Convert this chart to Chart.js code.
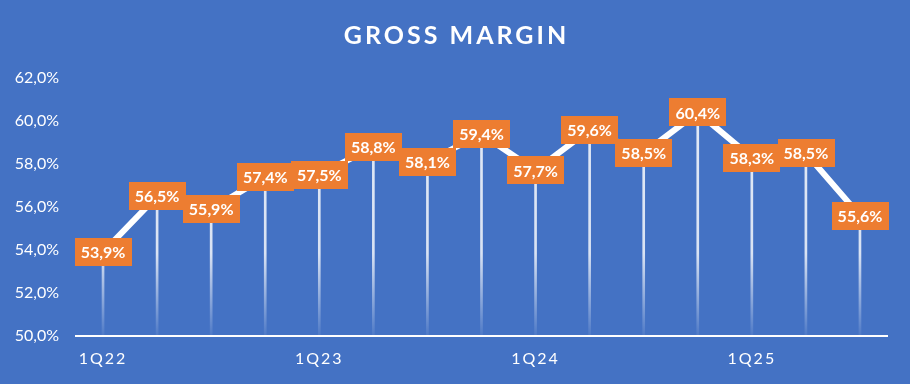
<!DOCTYPE html>
<html><head><meta charset="utf-8">
<script src="https://cdn.jsdelivr.net/npm/chart.js@4"></script>
<style>html,body{margin:0;padding:0;background:#4472C4;overflow:hidden;}</style>
</head><body>
<canvas id="c" width="910" height="384"></canvas>
<script>
const categories = ['1Q22','2Q22','3Q22','4Q22','1Q23','2Q23','3Q23','4Q23','1Q24','2Q24','3Q24','4Q24','1Q25','2Q25','3Q25'];
const grossMargin = [53.9,56.5,55.9,57.4,57.5,58.8,58.1,59.4,57.7,59.6,58.5,60.4,58.3,58.5,55.6];
const yMin = 50, yMax = 62, yStep = 2;
const titleText = 'GROSS MARGIN';

const fmt = v => v.toFixed(1).replace('.', ',') + '%';
const BG = '#4472C4', ORANGE = '#ED7D31';

const bgPlugin = {
  id: 'bg',
  beforeDraw(chart) {
    const ctx = chart.ctx;
    ctx.save();
    ctx.fillStyle = BG;
    ctx.fillRect(0, 0, chart.width, chart.height);
    ctx.restore();
    ctx.letterSpacing = '0px';
  }
};

const labelPlugin = {
  id: 'boxLabels',
  afterDatasetsDraw(chart) {
    const ctx = chart.ctx;
    const meta = chart.getDatasetMeta(1);
    ctx.save();
    ctx.letterSpacing = '0px';
    ctx.font = 'bold 16px Lato';
    ctx.textAlign = 'center';
    ctx.textBaseline = 'middle';
    meta.data.forEach((pt, i) => {
      const txt = fmt(grossMargin[i]);
      const w = ctx.measureText(txt).width + 12;
      const h = 28;
      ctx.fillStyle = ORANGE;
      ctx.fillRect(Math.round(pt.x - w / 2), Math.round(pt.y - h / 2), Math.round(w), h);
      ctx.fillStyle = '#FFFFFF';
      ctx.fillText(txt, pt.x, pt.y + 1);
    });
    ctx.restore();
    ctx.letterSpacing = '2px';
  },
  afterDraw(chart) {
    const ctx = chart.ctx;
    ctx.save();
    ctx.letterSpacing = '3px';
    ctx.font = 'bold 25px Lato';
    ctx.fillStyle = '#FFFFFF';
    ctx.textAlign = 'center';
    ctx.textBaseline = 'middle';
    ctx.fillText(titleText, chart.width / 2 + 1.5, 36);
    ctx.restore();
    ctx.letterSpacing = '0px';
  }
};

new Chart(document.getElementById('c'), {
  data: {
    labels: categories,
    datasets: [
      {
        type: 'bar',
        data: grossMargin,
        order: 1,
        barThickness: 2,
        backgroundColor: (c) => {
          const area = c.chart.chartArea;
          if (!area) return 'rgba(255,255,255,0.8)';
          const g = c.chart.ctx.createLinearGradient(0, area.top, 0, area.bottom);
          g.addColorStop(0, 'rgba(255,255,255,0.85)');
          g.addColorStop(0.68, 'rgba(255,255,255,0.8)');
          g.addColorStop(1, 'rgba(255,255,255,0.05)');
          return g;
        }
      },
      {
        type: 'line',
        data: grossMargin,
        order: 0,
        borderColor: '#FFFFFF',
        borderWidth: 6,
        borderJoinStyle: 'round',
        borderCapStyle: 'round',
        pointRadius: 0,
        tension: 0,
        fill: false
      }
    ]
  },
  options: {
    responsive: false,
    devicePixelRatio: 1,
    animation: false,
    layout: { padding: { top: 78, right: 23, bottom: 0, left: 0 } },
    plugins: { legend: { display: false }, title: { display: false }, tooltip: { enabled: false } },
    scales: {
      x: {
        grid: { display: false, drawTicks: false },
        border: { display: true, color: '#FFFFFF', width: 2 },
        afterFit(s) { s.height = 48; },
        ticks: {
          z: 1,
          autoSkip: false,
          maxRotation: 0,
          padding: 13,
          color: '#FFFFFF',
          font: { family: 'Lato', size: 16 },
          callback(v, i) { return i % 4 === 0 ? categories[i] : ''; }
        }
      },
      y: {
        min: yMin, max: yMax,
        grid: { display: false, drawTicks: false },
        border: { display: false },
        afterFit(s) { s.width = 76; },
        ticks: {
          stepSize: yStep,
          padding: 17,
          color: '#FFFFFF',
          font: { family: 'Lato', size: 16 },
          callback: v => fmt(v)
        }
      }
    }
  },
  plugins: [bgPlugin, labelPlugin]
});
</script>
</body></html>
